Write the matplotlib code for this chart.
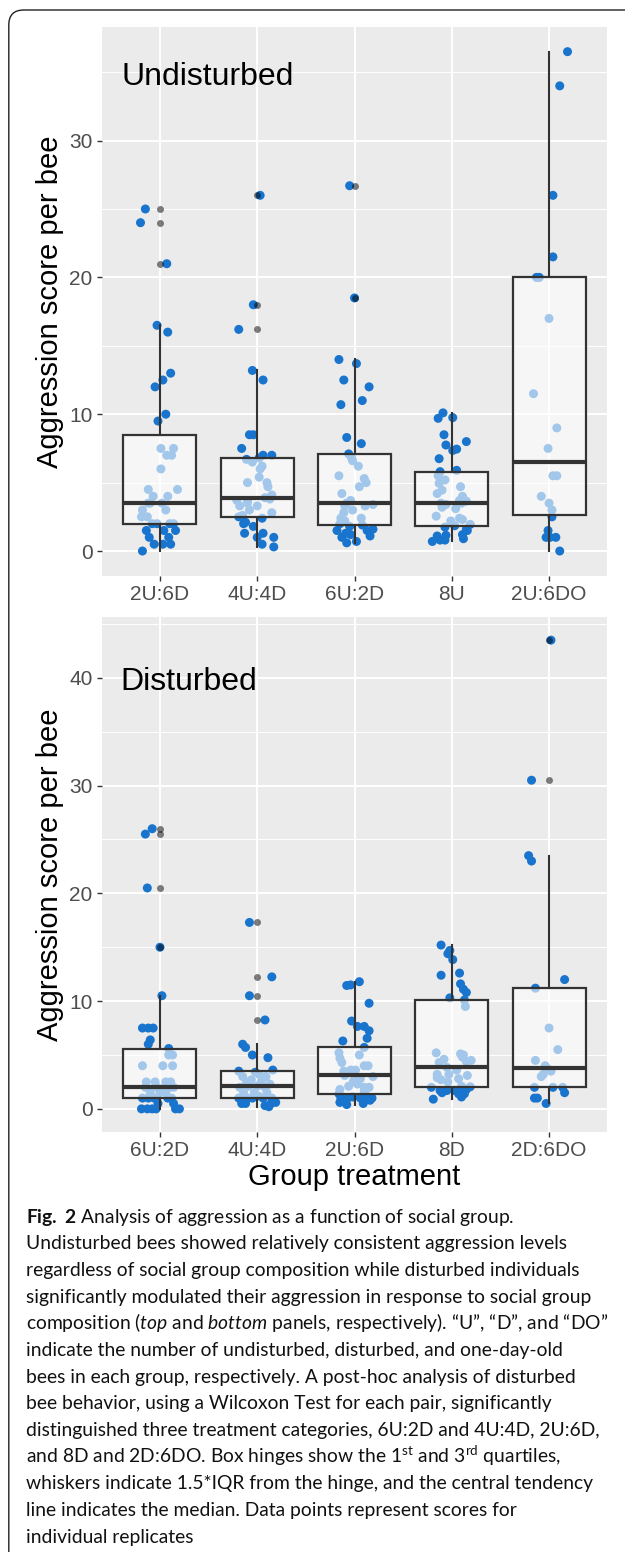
import numpy as np
import matplotlib
matplotlib.use("Agg")
import matplotlib.pyplot as plt
from matplotlib.patches import FancyBboxPatch

plt.rcParams['font.family'] = ['Liberation Sans', 'DejaVu Sans']
plt.rcParams['mathtext.fontset'] = 'custom'
plt.rcParams['mathtext.rm'] = 'Lato'
plt.rcParams['mathtext.it'] = 'Lato:italic'
plt.rcParams['mathtext.bf'] = 'Lato:bold'

# ---- top panel: undisturbed ----
und_labels = ["2U:6D", "4U:4D", "6U:2D", "8U", "2U:6DO"]
und_2u6d = [0, 0.5, 0.5, 0.5, 1.0, 1.0, 1.5, 1.5, 1.5, 2.0, 2.0, 2.0, 2.0, 2.5, 2.5, 3.0, 3.0,
            3.5, 3.5, 3.5, 4.0, 4.0, 4.5, 4.5, 6.0, 7.0, 7.0, 7.5, 7.5, 9.5, 10.0, 12.0, 12.5,
            13.0, 16.0, 16.5, 21.0, 24.0, 25.0]
und_2u6d_jit = [-0.18, -0.06, 0.03, 0.11, -0.11, 0.09, -0.14, 0.04, 0.16, -0.03, 0.10, -0.08, 0.14,
                -0.19, -0.13, -0.18, 0.06, -0.10, -0.12, 0.02, -0.07, 0.08, -0.12, 0.18, 0.01, 0.07,
                0.12, 0.01, 0.14, -0.02, 0.06, -0.05, 0.03, 0.11, 0.08, -0.03, 0.07, -0.20, -0.15]
und_4u4d = [0.3, 0.5, 1.0, 1.0, 1.3, 1.3, 1.8, 2.0, 2.1, 2.4, 2.5, 2.6, 2.8, 3.0, 3.3, 3.3, 3.5,
            3.7, 3.7, 3.8, 3.9, 4.1, 4.7, 5.0, 5.0, 5.4, 6.0, 6.2, 6.5, 6.7, 6.8, 7.0, 7.0, 7.5,
            8.5, 8.5, 12.5, 13.2, 16.2, 18.0, 26.0]
und_4u4d_jit = [0.17, 0.05, 0.0, 0.17, -0.13, 0.06, -0.04, -0.14, -0.12, 0.05, -0.19, -0.15, 0.15,
                -0.08, -0.18, 0.0, -0.10, -0.21, -0.10, 0.13, 0.08, 0.15, 0.11, -0.10, 0.10, 0.02,
                0.03, 0.05, -0.05, -0.11, 0.02, 0.06, 0.15, -0.16, -0.08, -0.04, 0.06, -0.05,
                -0.19, -0.04, 0.03]
und_6u2d = [0.6, 0.7, 1.0, 1.1, 1.2, 1.3, 1.5, 1.5, 1.6, 1.8, 1.9, 2.0, 2.2, 2.4, 2.4, 2.8, 3.0,
            3.3, 3.3, 3.4, 3.5, 3.7, 4.2, 4.7, 5.0, 5.3, 5.5, 6.2, 6.6, 6.8, 7.1, 7.85, 8.3, 10.7,
            11.0, 12.0, 12.5, 13.7, 14.0, 18.5, 26.7]
und_6u2d_jit = [-0.08, 0.02, -0.13, 0.16, -0.04, -0.09, -0.18, 0.13, 0.19, -0.05, 0.08, -0.15, -0.10,
                -0.14, 0.07, -0.11, -0.02, -0.10, 0.11, 0.19, -0.08, -0.04, -0.13, 0.05, 0.12, 0.10,
                -0.16, 0.04, -0.02, -0.03, -0.06, 0.07, -0.08, -0.14, 0.08, 0.15, -0.11, 0.02,
                -0.16, 0.0, -0.05]
und_8u = [0.7, 0.8, 0.8, 0.9, 1.1, 1.15, 1.2, 1.5, 1.6, 1.75, 1.85, 1.95, 2.2, 2.3, 2.4, 2.55, 3.1,
          3.2, 3.4, 3.5, 3.5, 3.65, 3.7, 4.0, 4.2, 4.45, 4.7, 4.95, 5.2, 5.5, 5.8, 5.9, 6.75, 7.35,
          7.45, 7.75, 8.0, 8.5, 9.7, 9.75, 10.1]
und_8u_jit = [-0.20, -0.12, -0.07, 0.12, -0.15, -0.06, 0.11, 0.16, 0.15, -0.07, 0.03, 0.19, -0.01,
              0.11, 0.08, -0.16, 0.04, -0.10, -0.06, -0.11, 0.10, 0.15, 0.08, 0.11, -0.15, -0.10,
              0.09, -0.13, -0.07, -0.14, -0.12, 0.05, -0.13, 0.01, 0.05, -0.06, 0.15, -0.08, -0.14,
              0.01, -0.09]
und_2u6do = [0, 1.0, 1.0, 1.0, 1.5, 2.5, 3.0, 3.5, 4.0, 5.5, 5.5, 7.5, 9.0, 11.5, 17.0, 20.0, 20.0,
             20.0, 21.5, 26.0, 34.0, 36.5]
und_2u6do_jit = [0.11, -0.03, 0.07, 0.01, -0.01, 0.03, 0.03, 0.0, -0.08, 0.04, 0.08, -0.01, 0.08,
                 -0.16, 0.0, -0.13, -0.10, -0.11, 0.04, 0.04, 0.11, 0.19]

# ---- bottom panel: disturbed ----
dis_labels = ["6U:2D", "4U:4D", "2U:6D", "8D", "2D:6DO"]
dis_6u2d = [0, 0, 0, 0, 0, 0, 0.5, 0.5, 1.0, 1.0, 1.0, 1.0, 1.0, 1.5, 1.5, 1.5, 2.0, 2.0, 2.0, 2.0,
            2.0, 2.5, 2.5, 2.5, 2.5, 4.0, 4.0, 4.0, 5.0, 5.0, 5.6, 6.0, 6.4, 7.5, 7.5, 7.5, 10.5,
            15.0, 20.5, 25.5, 26.0]
dis_6u2d_jit = [-0.19, -0.13, -0.08, 0.16, 0.20, -0.04, 0.14, -0.02, -0.18, 0.08, -0.12, 0.12, -0.06,
                0.0, 0.06, -0.10, -0.15, 0.10, -0.03, 0.14, 0.05, -0.05, 0.06, 0.11, -0.14, -0.18,
                0.03, 0.13, 0.09, 0.13, 0.09, -0.12, -0.10, -0.18, -0.12, -0.07, 0.02, 0.0, -0.13,
                -0.15, -0.08]
dis_4u4d = [0.2, 0.3, 0.5, 0.5, 0.5, 0.6, 1.0, 1.0, 1.0, 1.0, 1.0, 1.2, 1.5, 1.5, 1.5, 2.0, 2.0,
            2.1, 2.1, 2.3, 2.5, 2.5, 2.7, 3.0, 3.0, 3.2, 3.4, 3.5, 3.6, 4.75, 5.0, 5.7, 6.0, 8.25,
            10.5, 12.25, 17.3]
dis_4u4d_jit = [0.12, 0.08, -0.16, -0.12, 0.14, 0.19, -0.19, -0.05, 0.06, 0.15, -0.10, 0.01, -0.14,
                0.10, -0.03, -0.18, 0.08, 0.0, -0.09, 0.13, -0.11, 0.04, -0.06, -0.15, 0.09, 0.02,
                -0.02, -0.19, 0.16, 0.11, -0.05, -0.12, -0.15, 0.08, -0.08, 0.15, -0.08]
dis_2u6d = [0.4, 0.5, 0.6, 0.8, 1.0, 1.0, 1.0, 1.0, 1.1, 1.2, 1.4, 1.6, 1.8, 2.0, 2.0, 2.1, 2.3,
            2.6, 2.8, 3.0, 3.1, 3.5, 3.6, 3.6, 4.0, 4.0, 4.3, 4.7, 5.0, 5.2, 5.7, 6.3, 6.55, 7.25,
            7.65, 7.65, 8.15, 9.8, 11.45, 11.5, 11.8]
dis_2u6d_jit = [-0.08, 0.09, -0.15, 0.16, -0.14, -0.07, 0.06, 0.18, -0.02, 0.12, -0.16, 0.10, -0.15,
                0.10, 0.15, -0.06, 0.03, -0.01, 0.06, 0.19, -0.10, -0.11, -0.04, 0.01, 0.14, 0.10,
                -0.13, -0.15, 0.05, -0.16, 0.10, -0.12, 0.13, 0.15, 0.03, 0.10, -0.03, 0.15, -0.08,
                -0.04, 0.05]
dis_8d = [0.9, 1.1, 1.4, 1.4, 1.5, 1.7, 1.7, 1.7, 1.8, 2.0, 2.05, 2.1, 2.5, 2.7, 2.8, 2.9, 3.1, 3.2,
          3.2, 3.6, 3.85, 4.3, 4.4, 4.5, 4.6, 4.8, 5.0, 5.1, 5.2, 9.5, 10.1, 10.3, 10.8, 11.1, 11.6,
          12.4, 12.6, 13.85, 14.4, 14.7, 15.2]
dis_8d_jit = [-0.19, 0.10, 0.07, 0.13, -0.10, -0.12, -0.05, 0.03, 0.15, -0.21, 0.19, 0.10, -0.04,
              -0.11, 0.07, -0.15, 0.16, -0.15, -0.03, 0.05, -0.05, -0.13, 0.15, 0.20, -0.08, 0.11,
              0.12, 0.09, -0.16, 0.14, 0.13, -0.02, 0.15, 0.12, 0.09, -0.11, 0.08, 0.01, -0.04,
              -0.02, -0.11]
dis_2d6do = [0.5, 1.0, 1.0, 1.5, 2.0, 2.0, 2.0, 3.0, 3.2, 3.5, 3.75, 4.0, 4.5, 5.5, 7.5, 11.2, 12.0,
             23.0, 23.5, 30.5, 43.5]
dis_2d6do_jit = [-0.03, -0.15, -0.12, 0.16, -0.15, 0.04, 0.14, -0.08, -0.06, 0.02, -0.02, -0.04,
                 -0.14, 0.09, 0.0, -0.14, 0.16, -0.18, -0.21, -0.18, 0.02]

caption_lines = [
    r"$\mathbf{Fig.\ 2}$ Analysis of aggression as a function of social group.",
    "Undisturbed bees showed relatively consistent aggression levels",
    "regardless of social group composition while disturbed individuals",
    "significantly modulated their aggression in response to social group",
    r"composition ($\mathit{top}$ and $\mathit{bottom}$ panels, respectively). “U”, “D”, and “DO”",
    "indicate the number of undisturbed, disturbed, and one-day-old",
    "bees in each group, respectively. A post-hoc analysis of disturbed",
    "bee behavior, using a Wilcoxon Test for each pair, significantly",
    "distinguished three treatment categories, 6U:2D and 4U:4D, 2U:6D,",
    r"and 8D and 2D:6DO. Box hinges show the 1$^{\mathrm{st}}$ and 3$^{\mathrm{rd}}$ quartiles,",
    "whiskers indicate 1.5*IQR from the hinge, and the central tendency",
    "line indicates the median. Data points represent scores for",
    "individual replicates",
]

BLUE = '#1874CD'


def draw_panel(ax, labels, groups, jitters, yticks):
    pos = np.arange(len(groups))
    for p, vals, jit in zip(pos, groups, jitters):
        ax.scatter(p + np.array(jit), vals, s=42, color=BLUE, edgecolors='none', zorder=2)
    ax.boxplot(groups, positions=pos, widths=0.75, whis=1.5, patch_artist=True,
               showcaps=False, zorder=3,
               boxprops=dict(facecolor=(1, 1, 1, 0.6), edgecolor='#333333', linewidth=1.6),
               whiskerprops=dict(color='#333333', linewidth=1.5),
               medianprops=dict(color='#333333', linewidth=3.0),
               flierprops=dict(marker='o', markerfacecolor='black', markeredgecolor='none',
                               alpha=0.5, markersize=5))
    allv = np.concatenate([np.asarray(g, float) for g in groups])
    lo, hi = allv.min(), allv.max()
    pad = 0.05 * (hi - lo)
    ax.set_ylim(lo - pad, hi + pad)
    ax.set_xlim(-0.6, len(groups) - 0.4)
    ax.set_xticks(pos, labels)
    ax.set_yticks(yticks)
    ax.set_yticks([t + 5 for t in yticks], minor=True)
    ax.set_facecolor('#EBEBEB')
    for s in ax.spines.values():
        s.set_visible(False)
    ax.set_axisbelow(True)
    ax.grid(which='major', color='white', linewidth=1.4)
    ax.grid(which='minor', axis='y', color='white', linewidth=0.7)
    ax.tick_params(which='major', length=3.6, width=1.0, color='#333333',
                   labelcolor='#4D4D4D', labelsize=15, pad=3)
    ax.tick_params(which='minor', length=0)


fig = plt.figure(figsize=(6.25, 15.52), dpi=100)
W, H = 625.0, 1552.0

ax1 = fig.add_axes([101.6 / W, 1 - 576 / H, 505.8 / W, 549.3 / H])
draw_panel(ax1, und_labels,
           [und_2u6d, und_4u4d, und_6u2d, und_8u, und_2u6do],
           [und_2u6d_jit, und_4u4d_jit, und_6u2d_jit, und_8u_jit, und_2u6do_jit],
           [0, 10, 20, 30])
ax1.text(-0.4, 34.1, "Undisturbed", fontsize=23, ha='left', va='baseline')

ax2 = fig.add_axes([101.6 / W, 1 - 1132.3 / H, 505.8 / W, 515.6 / H])
draw_panel(ax2, dis_labels,
           [dis_6u2d, dis_4u4d, dis_2u6d, dis_8d, dis_2d6do],
           [dis_6u2d_jit, dis_4u4d_jit, dis_2u6d_jit, dis_8d_jit, dis_2d6do_jit],
           [0, 10, 20, 30, 40])
ax2.text(-0.41, 38.9, "Disturbed", fontsize=23, ha='left', va='baseline')

fig.text(50 / W, 1 - 301.3 / H, "Aggression score per bee", rotation=90, fontsize=21,
         ha='center', va='center')
fig.text(50 / W, 1 - 874.5 / H, "Aggression score per bee", rotation=90, fontsize=21,
         ha='center', va='center')
fig.text(354.5 / W, 1 - 1185 / H, "Group treatment", fontsize=21, ha='center', va='baseline')

# caption
for i, line in enumerate(caption_lines):
    fig.text(25.5 / W, 1 - (1222.7 + 26.67 * i) / H, line, family='Lato', fontsize=13.9,
             color='#111111', ha='left', va='baseline')

# rounded frame around the figure
frame = FancyBboxPatch((0.088, -1.0), 7.0, 16.42, boxstyle='round,pad=0,rounding_size=0.15',
                       transform=fig.dpi_scale_trans, fill=False, edgecolor='#222222',
                       linewidth=1.0)
fig.add_artist(frame)

fig.savefig("out.png", dpi=100)
